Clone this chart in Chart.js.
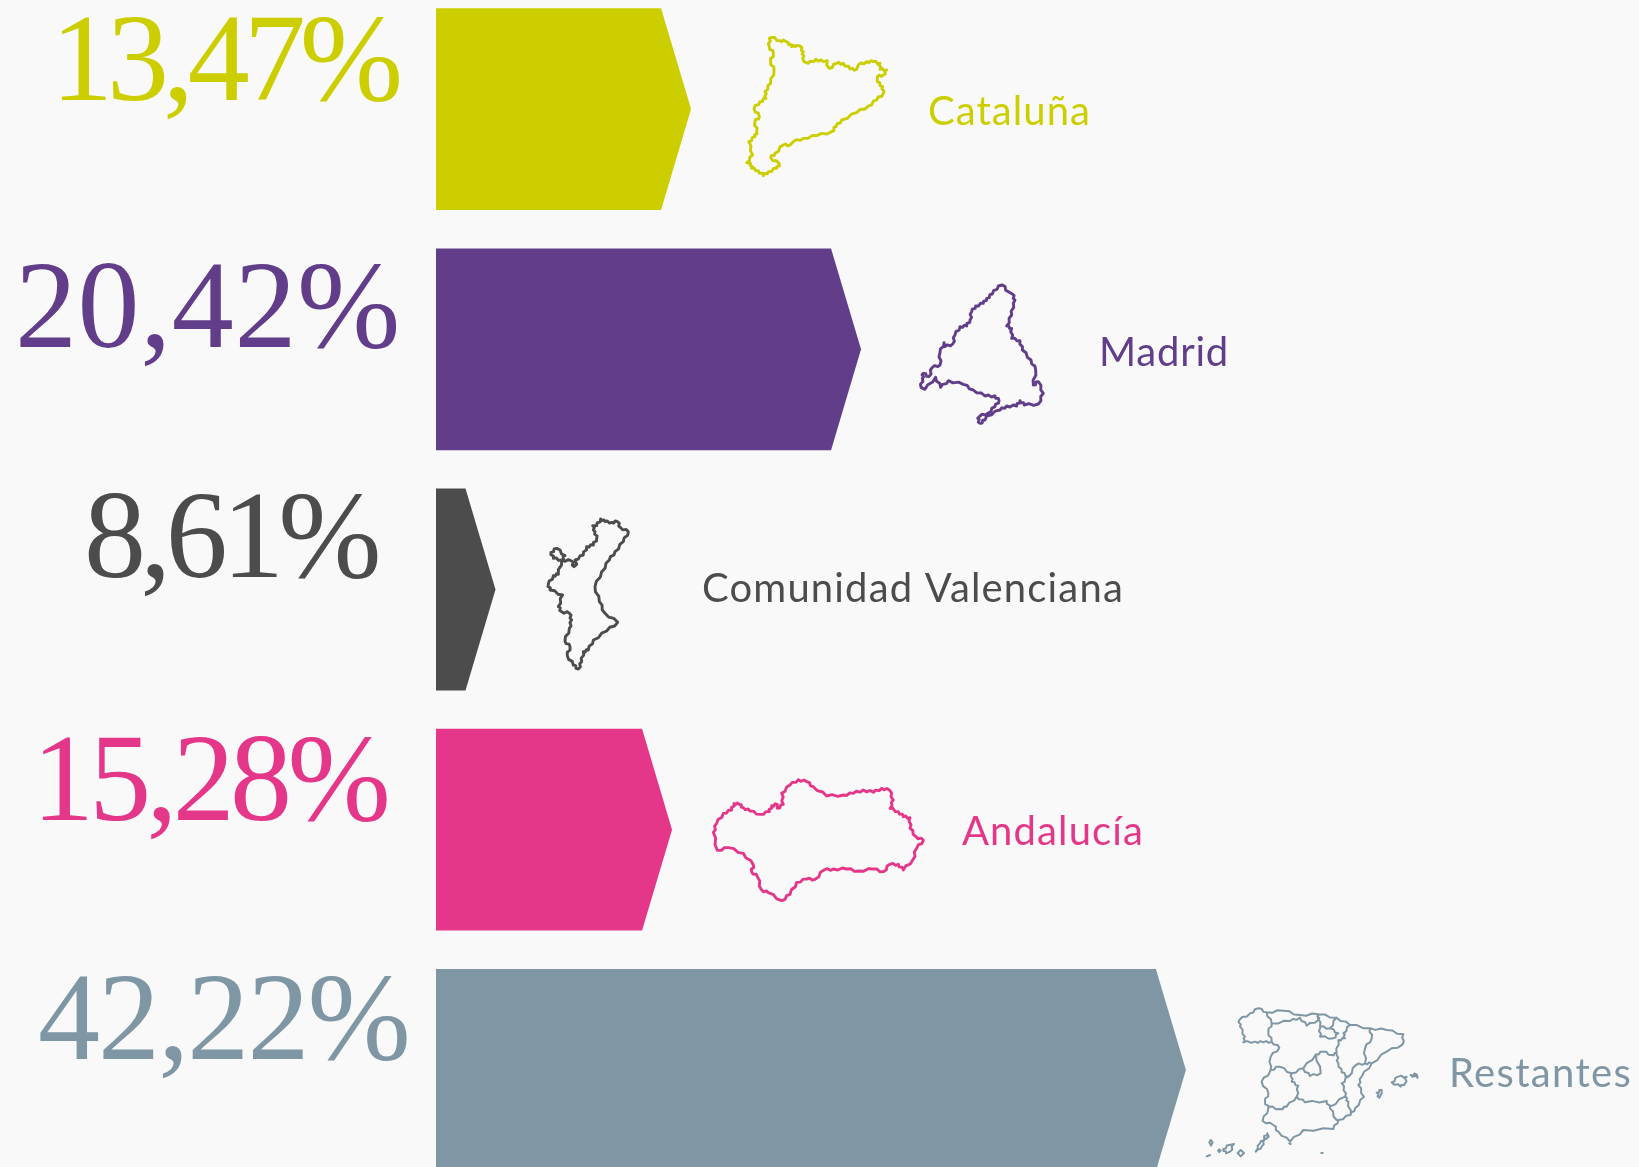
<!DOCTYPE html>
<html lang="es">
<head>
<meta charset="utf-8">
<title>Distribución por comunidades</title>
<script src="https://cdn.jsdelivr.net/npm/chart.js@4"></script>
<style>
html,body{margin:0;padding:0;background:#f9f9f9;overflow:hidden}
#wrap{position:relative;width:1639px;height:1167px;overflow:hidden}
#c{position:absolute;left:0;top:-11px;display:block}
</style>
</head>
<body>
<div id="wrap"><canvas id="c" width="1639" height="1201"></canvas></div>
<script>
// ---- data ----
const categories = ["Cataluña", "Madrid", "Comunidad Valenciana", "Andalucía", "Restantes"];
const percentLabels = ["13,47%", "20,42%", "8,61%", "15,28%", "42,22%"];
const barLengths = [14.36, 23.93, 3.35, 13.29, 42.22]; // drawn length of each arrow, on the axis where Restantes = 42.22
const colors = ["#cdce00", "#623e8a", "#4d4c4c", "#e5378a", "#7f97a5"];

// ---- text placement (page pixels) ----
const CANVAS_SHIFT = 11;
const percentBox = [[51,397,100],[15,401,347],[84,376,577],[32,386,820],[38,409,1059]];   // left, right, baseline
const nameBox = [[928,163,125],[1099,130,366],[702,422,602],[962,182,845],[1449,183,1087]]; // left, width, baseline

// ---- decorative map outlines: [originX, originY, lineWidth, [sub-paths in crop pixels ×3]] ----
const mapIcons = [
 [730,20,2.9,[[[118,55],[125,52],[150,62],[165,63],[175,68],[185,80],[200,76],[210,78],[220,95],[218,115],[222,125],[235,130],[258,118],[280,125],[292,122],[290,135],[298,145],[320,130],[340,130],[360,147],[380,148],[385,135],[410,125],[430,125],[450,130],[450,148],[470,150],[460,165],[442,170],[442,185],[458,200],[460,220],[440,240],[415,258],[380,278],[335,300],[318,320],[305,335],[260,347],[220,355],[190,365],[180,375],[160,375],[135,400],[122,413],[148,432],[140,445],[115,455],[100,467],[85,452],[65,445],[62,430],[50,428],[68,405],[56,365],[75,350],[80,335],[75,305],[88,290],[72,265],[90,245],[108,235],[105,215],[122,190],[132,150],[122,125],[130,100],[118,80],[118,55]]]],
 [905,270,2.9,[[[292,45],[280,48],[262,72],[245,85],[235,100],[212,108],[200,125],[195,150],[185,168],[165,170],[150,195],[143,222],[120,230],[117,218],[105,248],[105,285],[82,292],[72,320],[55,310],[52,325],[48,352],[60,358],[92,322],[107,352],[130,332],[175,343],[205,360],[240,378],[270,378],[282,392],[270,410],[248,430],[225,438],[218,445],[225,460],[240,450],[245,438],[285,420],[305,408],[335,408],[345,392],[358,405],[400,402],[415,370],[400,335],[385,345],[392,300],[378,270],[352,240],[345,212],[320,205],[320,175],[305,168],[320,135],[325,100],[330,90],[322,72],[310,65],[292,45]]]],
 [530,505,2.9,[[[212,42],[225,50],[245,52],[262,50],[272,68],[295,80],[280,110],[255,140],[238,165],[215,200],[195,245],[208,290],[225,325],[263,352],[230,378],[190,405],[175,435],[160,440],[155,470],[145,492],[130,480],[112,452],[120,425],[105,408],[118,370],[125,345],[118,325],[95,320],[85,305],[98,270],[60,255],[55,238],[70,212],[85,208],[95,165],[125,168],[132,185],[140,178],[135,165],[160,150],[170,125],[190,120],[200,100],[195,80],[188,62],[200,62],[212,42]],[[63,142],[80,130],[105,152],[95,165],[70,160],[63,142]]]],
 [700,765,2.9,[[[40,202],[50,175],[70,145],[95,135],[102,115],[118,118],[130,128],[150,138],[180,148],[208,140],[215,122],[232,118],[232,130],[250,118],[245,85],[270,60],[295,44],[320,50],[340,65],[380,93],[430,90],[460,85],[490,75],[520,82],[545,70],[568,75],[580,105],[570,130],[595,140],[610,155],[630,158],[630,190],[648,215],[670,226],[650,250],[638,285],[610,315],[595,298],[570,298],[550,320],[520,312],[475,318],[440,312],[400,312],[372,315],[345,343],[320,342],[290,352],[270,388],[245,407],[205,383],[185,375],[172,335],[155,320],[160,300],[130,265],[85,248],[52,256],[40,202]]]],
 [1190,995,2,[
  [[160,142],[165,125],[150,95],[148,75],[180,55],[205,40],[230,52],[280,47],[330,60],[385,58],[440,68],[480,90],[540,100],[590,105],[640,118],[638,148],[590,170],[545,205],[515,245],[505,270],[522,305],[495,340],[482,360],[445,375],[430,402],[340,405],[300,440],[265,410],[250,390],[218,378],[235,340],[225,320],[235,295],[215,260],[240,230],[242,185],[268,158],[245,140],[220,142],[195,140],[160,142]],
  [[230,52],[245,85],[235,110],[245,140]],
  [[245,85],[300,78],[330,68],[350,92],[385,75],[385,58]],
  [[385,58],[390,95],[420,100],[440,68]],
  [[390,100],[390,125],[430,130],[445,115],[420,100]],
  [[480,90],[460,115],[465,130],[445,135],[440,175],[425,180]],
  [[242,225],[268,215],[305,235],[340,220],[378,178],[400,170],[425,180]],
  [[540,100],[545,130],[525,160],[525,205],[498,210],[475,245],[455,232],[445,205],[440,180]],
  [[525,205],[545,205]],
  [[378,178],[392,235],[360,243],[340,222]],
  [[305,235],[305,260],[325,272],[320,305],[290,335],[270,342],[235,335]],
  [[320,305],[345,322],[410,318],[420,340],[440,375]],
  [[420,335],[465,305],[475,320],[482,360]],
  [[475,245],[455,265],[468,295],[465,305]],
  [[605,262],[625,245],[650,245],[645,265],[632,275],[605,262]],
  [[662,240],[680,238],[683,248],[662,240]],
  [[560,293],[575,285],[575,295],[568,308],[560,293]],
  [[232,415],[236,425],[228,432],[222,428],[232,415]],
  [[225,430],[215,455],[197,470],[210,445],[225,430]],
  [[143,474],[152,465],[162,474],[152,484],[143,474]],
  [[100,462],[118,450],[132,447],[120,470],[108,475],[100,462]],
  [[84,467],[88,463],[92,467],[88,471],[84,467]],
  [[58,442],[63,452],[68,442],[62,435],[58,442]],
  [[50,484],[60,480]],
  [[298,445],[302,447]],
  [[394,474],[398,474]]
 ]]
];

// ---- arrow-shaped bars ----
const TIP = 30;
Chart.BarElement.prototype.draw = function (ctx) {
  const {x, y, base, height} = this.getProps(['x','y','base','height'], true);
  ctx.save();
  ctx.fillStyle = this.options.backgroundColor;
  ctx.beginPath();
  ctx.moveTo(base, y - height/2);
  ctx.lineTo(x - TIP, y - height/2);
  ctx.lineTo(x, y);
  ctx.lineTo(x - TIP, y + height/2);
  ctx.lineTo(base, y + height/2);
  ctx.closePath();
  ctx.fill();
  ctx.restore();
};

function fitted(ctx, text, x, baseline, width) {
  ctx.letterSpacing = '0px';
  const natural = ctx.measureText(text).width;
  ctx.letterSpacing = ((width - natural) / text.length).toFixed(2) + 'px';
  ctx.fillText(text, x, baseline);
  ctx.letterSpacing = '0px';
}

// border texture: long straight runs of an outline get a small kink, so they read as a map border
function kinked(ctx, pts, ox, oy) {
  pts.forEach(([px, py], k) => {
    const X = ox + px / 3, Y = oy + py / 3;
    if (!k) { ctx.moveTo(X, Y); return; }
    const [qx, qy] = pts[k - 1];
    const dx = (px - qx) / 3, dy = (py - qy) / 3, len = Math.hypot(dx, dy);
    if (len > 5) {
      const nx = -dy / len, ny = dx / len, s = k % 2 ? 1 : -1;
      ctx.lineTo(ox + qx / 3 + dx * 0.33 + nx * s, oy + qy / 3 + dy * 0.33 + ny * s);
      ctx.lineTo(ox + qx / 3 + dx * 0.66 - nx * s, oy + qy / 3 + dy * 0.66 - ny * s);
    }
    ctx.lineTo(X, Y);
  });
}

const decorations = {
  id: 'decorations',
  afterDatasetsDraw(chart) {
    const ctx = chart.ctx;
    ctx.save();
    ctx.translate(0, CANVAS_SHIFT);
    ctx.textAlign = 'left';
    ctx.textBaseline = 'alphabetic';
    categories.forEach((name, i) => {
      ctx.fillStyle = colors[i];
      ctx.font = '124px "Liberation Serif"';
      const [l, r, b] = percentBox[i];
      fitted(ctx, percentLabels[i], l, b, r - l);
      ctx.font = '40px "Lato"';
      const [nl, nw, nb] = nameBox[i];
      fitted(ctx, name, nl, nb, nw);
      const [ox, oy, lw, paths] = mapIcons[i];
      ctx.strokeStyle = colors[i];
      ctx.lineWidth = lw;
      ctx.lineJoin = 'round';
      ctx.lineCap = 'round';
      ctx.beginPath();
      paths.forEach(p => kinked(ctx, p, ox, oy));
      ctx.stroke();
    });
    ctx.restore();
  }
};

new Chart(document.getElementById('c'), {
  type: 'bar',
  data: {
    labels: categories,
    datasets: [{ data: barLengths, backgroundColor: colors, borderWidth: 0,
                 barPercentage: 0.84, categoryPercentage: 1 }]
  },
  options: {
    indexAxis: 'y',
    responsive: false,
    animation: false,
    layout: { padding: { left: 436, right: 0, top: 0, bottom: 0 } },
    plugins: { legend: { display: false }, tooltip: { enabled: false } },
    scales: {
      x: { display: false, min: 0, max: 67.73 },
      y: { display: false }
    }
  },
  plugins: [decorations]
});
</script>
</body>
</html>
